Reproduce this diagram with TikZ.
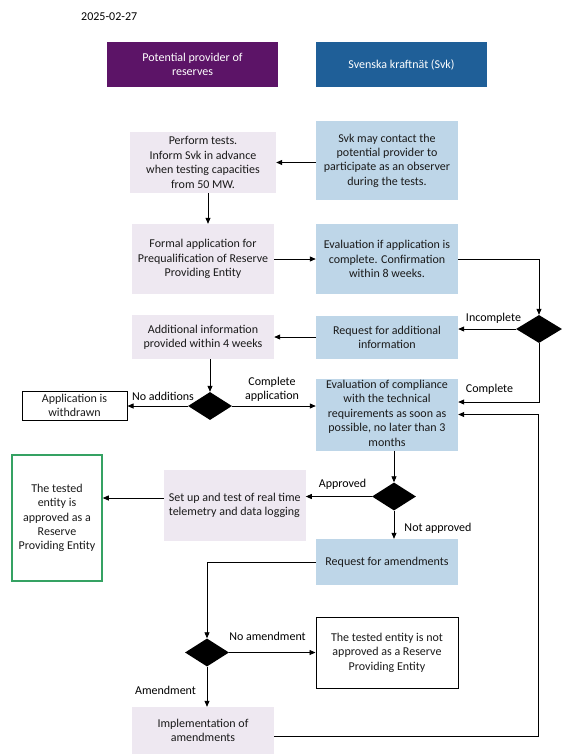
\documentclass[tikz,border=0pt]{standalone}
\usepackage{fontspec}
\setmainfont{Carlito}
\usetikzlibrary{arrows.meta,shapes.geometric}
\definecolor{hdrpurple}{HTML}{5C1467}
\definecolor{hdrblue}{HTML}{1F5F98}
\definecolor{lpurple}{HTML}{EEE8F1}
\definecolor{lblue}{HTML}{BED6E8}
\definecolor{okgreen}{HTML}{35A263}
\definecolor{txt}{HTML}{1A1A1A}
\begin{document}
\begin{tikzpicture}[x=1pt,y=-1pt,
  every node/.style={font=\fontsize{12}{14.4}\selectfont, text=txt},
  box/.style={rectangle, inner sep=0pt, align=center},
  pbox/.style={box, fill=lpurple},
  bbox/.style={box, fill=lblue},
  wbox/.style={box, draw=black, line width=1pt, fill=white},
  hdr/.style={box, text=white},
  dia/.style={diamond, fill=black, inner sep=0pt, minimum width=44pt, minimum height=28pt},
  arr/.style={draw=black, line width=0.8pt, -{Triangle[length=6pt,width=5pt]}},
  lbl/.style={inner sep=0pt, text=black}
]
\useasboundingbox (0,0) rectangle (565,756);
\fill[white] (0,0) rectangle (565,756);

\node[lbl, anchor=west] (date) at (81,17) {2025-02-27};

\node[hdr, fill=hdrpurple, minimum width=171pt, minimum height=45pt] (hp) at (192.5,64.5) {Potential provider of\\reserves};
\node[hdr, fill=hdrblue, minimum width=171pt, minimum height=45pt] (hb) at (401.5,64.5) {Svenska kraftnät (Svk)};

\node[pbox, minimum width=146pt, minimum height=61pt] (b1) at (203,162.5) {Perform tests.\\Inform Svk in advance\\when testing capacities\\from 50 MW.};
\node[bbox, minimum width=142pt, minimum height=79pt] (b2) at (387,160.5) {Svk may contact the\\potential provider to\\participate as an observer\\during the tests.};
\node[pbox, minimum width=142pt, minimum height=70pt] (b3) at (203,259) {Formal application for\\Prequalification of Reserve\\Providing Entity};
\node[bbox, minimum width=142pt, minimum height=70pt] (b4) at (387,259) {Evaluation if application is\\complete. Confirmation\\within 8 weeks.};
\node[dia, minimum width=46pt] (d1) at (539,329) {};
\node[pbox, minimum width=142pt, minimum height=44pt] (b5) at (203,337) {Additional information\\provided within 4 weeks};
\node[bbox, minimum width=142pt, minimum height=43pt] (b6) at (387,337.5) {Request for additional\\information};
\node[dia] (d2) at (210,406) {};
\node[wbox, minimum width=105pt, minimum height=29pt] (wd) at (74.5,405.5) {Application is\\withdrawn};
\node[bbox, minimum width=142pt, minimum height=71pt] (b7) at (387,414.5) {\begin{tabular}{@{}c@{}}Evaluation of compliance\\with the technical\\requirements as soon as\\possible, no later than 3\\months\end{tabular}};
\node[dia] (d3) at (394,496.5) {};
\node[pbox, minimum width=141.6pt, minimum height=71pt, align=left] (b8) at (234.8,505.5) {Set up and test of real time\\telemetry and data logging};
\node[box, draw=okgreen, line width=1.5pt, minimum width=90pt, minimum height=126pt] (g) at (57,518) {The tested\\entity is\\approved as a\\Reserve\\Providing Entity};
\node[bbox, minimum width=142pt, minimum height=46pt] (b9) at (387,562) {Request for amendments};
\node[dia] (d4) at (207,652.5) {};
\node[wbox, minimum width=142pt, minimum height=71pt] (b10) at (387,652.5) {The tested entity is not\\approved as a Reserve\\Providing Entity};
\node[pbox, minimum width=142pt, minimum height=47pt] (b11) at (203,730.5) {Implementation of\\amendments};

\coordinate (c1) at (538,736);

% connectors
\draw[arr] (b1.east -| b2.west) -- (b1.east);
\draw[arr] ([xshift=5pt]b1.south) -- ([xshift=5pt]b1.south |- b3.north);
\draw[arr] (b3.east) -- (b4.west);
\draw[arr] (b4.east) -| (d1.north);
\draw[arr] (d1.west) -- (d1.west -| b6.east);
\draw[arr] (b6.west |- b5.east) -- (b5.east);
\draw[arr] (d2.north |- b5.south) -- (d2.north);
\draw[arr] (d2.west) -- (d2.west -| wd.east);
\draw[arr] (d2.east) -- (d2.east -| b7.west);
\draw[arr] (d1.south) |- ([yshift=12.5pt]b7.east);
\draw[arr] (d3.north |- b7.south) -- (d3.north);
\draw[arr] (d3.west) -- (d3.west -| b8.east);
\draw[arr] ([yshift=7.5pt]b8.west) -- ([yshift=7.5pt]b8.west -| g.east);
\draw[arr] (d3.south) -- (d3.south |- b9.north);
\draw[arr] (b9.west) -| (d4.north);
\draw[arr] (d4.east) -- (b10.west);
\draw[arr] (d4.south) -- (d4.south |- b11.north);
\draw[arr] (b11.east |- c1) -- (c1) |- (b7.east);

% labels
\node[lbl] (lincomp) at (493.5,318) {Incomplete};
\node[lbl] (lcomp) at (489.5,389) {Complete};
\node[lbl] (lnoadd) at (163,396) {No additions};
\node[lbl, align=center] (lcapp) at (272,389.5) {Complete\\application};
\node[lbl] (lappr) at (342.5,484) {Approved};
\node[lbl] (lnotappr) at (438,528) {Not approved};
\node[lbl] (lnoam) at (267.5,636) {No amendment};
\node[lbl] (lam) at (165.5,690) {Amendment};
\end{tikzpicture}
\end{document}
